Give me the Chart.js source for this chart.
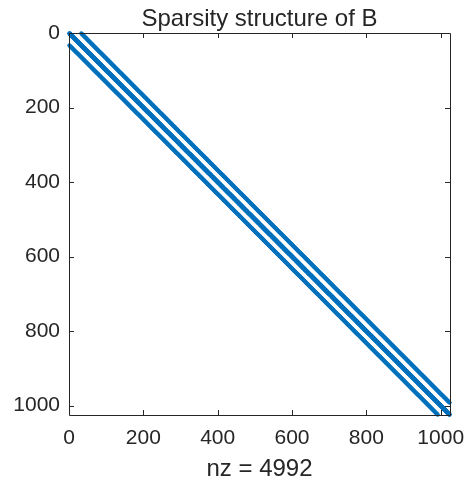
<!DOCTYPE html>
<html>
<head>
<meta charset="utf-8">
<script src="https://cdn.jsdelivr.net/npm/chart.js@4/dist/chart.umd.min.js"></script>
<style>
  html, body { margin: 0; padding: 0; background: #fff; }
  #wrap { width: 468px; height: 486px; }
</style>
</head>
<body>
<div id="wrap"><canvas id="spyChart" width="468" height="486"></canvas></div>
<script>
// matrix B: 32x32 grid laplacian, 1024 x 1024
const matrixSize = 1024;
const blockSize = 32;
const diagOffsets = [-32, -1, 0, 1, 32];
const xTickValues = [0, 200, 400, 600, 800, 1000];
const yTickValues = [0, 200, 400, 600, 800, 1000];
const axisMax = 1025;
const chartTitle = 'Sparsity structure of B';

const fontFamily = '"Liberation Sans", Arial, Helvetica, sans-serif';
const textColor = '#262626';
const markerColor = '#0072BD';

// nonzero positions (column, row), 1-based like spy
const nonzeros = [];
for (let row = 1; row <= matrixSize; row++) {
    diagOffsets.forEach(off => {
        const col = row + off;
        if (col < 1 || col > matrixSize) return;
        // +-1 neighbours don't cross block edges
        if (off === 1 && row % blockSize === 0) return;
        if (off === -1 && col % blockSize === 0) return;
        nonzeros.push({ x: col, y: row });
    });
}

// title + inner tick marks + box
const matlabAxes = {
    id: 'matlabAxes',
    afterDatasetsDraw(chart) {
        const { ctx, chartArea: a, scales } = chart;
        ctx.save();
        ctx.strokeStyle = textColor;
        ctx.lineWidth = 1;
        ctx.beginPath();
        ctx.rect(Math.round(a.left) + 0.5, Math.round(a.top) + 0.5,
                 Math.round(a.right - a.left), Math.round(a.bottom - a.top));
        xTickValues.forEach(v => {
            const px = Math.round(scales.x.getPixelForValue(v)) + 0.5;
            ctx.moveTo(px, a.bottom); ctx.lineTo(px, a.bottom - 5);
            ctx.moveTo(px, a.top); ctx.lineTo(px, a.top + 5);
        });
        yTickValues.forEach(v => {
            const py = Math.round(scales.y.getPixelForValue(v)) + 0.5;
            ctx.moveTo(a.left, py); ctx.lineTo(a.left + 5, py);
            ctx.moveTo(a.right, py); ctx.lineTo(a.right - 5, py);
        });
        ctx.stroke();

        ctx.fillStyle = textColor;
        ctx.font = '24px ' + fontFamily;
        ctx.textAlign = 'center';
        ctx.textBaseline = 'alphabetic';
        ctx.fillText(chartTitle, (a.left + a.right) / 2, 26);
        ctx.restore();
    }
};

const ctx = document.getElementById('spyChart').getContext('2d');
const chart = new Chart(ctx, {
    type: 'scatter',
    data: {
        datasets: [{
            data: nonzeros,
            pointRadius: 2,
            pointHoverRadius: 2,
            pointBorderWidth: 0,
            pointBackgroundColor: markerColor,
            pointBorderColor: markerColor,
            clip: false
        }]
    },
    options: {
        responsive: false,
        animation: false,
        events: [],
        layout: { padding: { top: 33, right: 18, left: 0, bottom: 0 } },
        plugins: {
            legend: { display: false },
            tooltip: { enabled: false },
            title: { display: false }
        },
        scales: {
            x: {
                type: 'linear',
                min: 0,
                max: axisMax,
                afterBuildTicks: s => { s.ticks = xTickValues.map(v => ({ value: v })); },
                afterFit: s => { s.height = 71; s.paddingLeft = 0; s.paddingRight = 0; },
                grid: { display: false, drawTicks: false },
                border: { display: false },
                ticks: {
                    padding: 11,
                    color: textColor,
                    font: { family: fontFamily, size: 21 },
                    maxRotation: 0,
                    callback: v => String(v)
                },
                title: {
                    display: true,
                    text: 'nz = ' + nonzeros.length,
                    color: textColor,
                    font: { family: fontFamily, size: 24 },
                    padding: { top: 0, bottom: 2 }
                }
            },
            y: {
                type: 'linear',
                min: 0,
                max: axisMax,
                reverse: true,
                afterBuildTicks: s => { s.ticks = yTickValues.map(v => ({ value: v })); },
                afterFit: s => { s.width = 69; s.paddingTop = 0; s.paddingBottom = 0; },
                grid: { display: false, drawTicks: false },
                border: { display: false },
                ticks: {
                    padding: 9,
                    color: textColor,
                    font: { family: fontFamily, size: 21 },
                    callback: v => String(v)
                }
            }
        }
    },
    plugins: [matlabAxes]
});
</script>
</body>
</html>
